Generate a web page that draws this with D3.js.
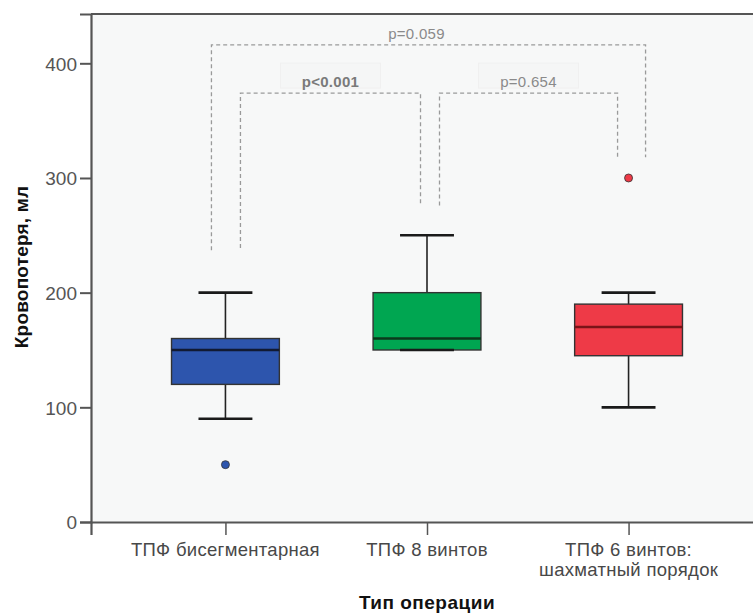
<!DOCTYPE html>
<html>
<head>
<meta charset="utf-8">
<script src="https://cdn.jsdelivr.net/npm/d3@7"></script>
<style>
  html, body { margin: 0; padding: 0; background: #ffffff; }
  svg { display: block; }
  text { font-family: "Liberation Sans", Arial, sans-serif; }
</style>
</head>
<body>
<svg id="chart" width="753" height="613"></svg>
<script>
// Blood loss by operation type (box plot, SPSS style)
const categories = ["ТПФ бисегментарная", "ТПФ 8 винтов", "ТПФ 6 винтов:|шахматный порядок"];
const whiskerLow  = [90, 150, 100];
const q1          = [120, 150, 145];
const median      = [150, 160, 170];
const q3          = [160, 200, 190];
const whiskerHigh = [200, 250, 200];
const outliers    = [[50], [], [300]];
const boxColors   = ["#2d55ad", "#00a651", "#ee3a47"];
const medianColors = ["#111a33", "#0b3a1c", "#7a1418"];
const yTicks = [0, 100, 200, 300, 400];

// Pairwise comparisons: bracket level and leg end points in ml
const compFrom   = [0, 0, 1];
const compTo     = [2, 1, 2];
const compLabel  = ["p=0.059", "p<0.001", "p=0.654"];
const compLevel  = [416, 374, 374];
const compLegA   = [237, 239, 276];
const compLegB   = [318, 278, 318];

const svg = d3.select("#chart");
const plot = { left: 91, top: 14, right: 763, bottom: 522 };

const y = d3.scaleLinear().domain([0, 443]).range([plot.bottom, plot.top]);
const x = d3.scalePoint().domain(categories).range([plot.left, plot.right]).padding(0.667);
const step = x.step();
const boxW = step * 0.535;
const capW = boxW * 0.5;

// plot background and frame
svg.append("rect")
  .attr("x", plot.left).attr("y", plot.top)
  .attr("width", plot.right - plot.left).attr("height", plot.bottom - plot.top)
  .attr("fill", "#f7f8f8");
svg.append("line")
  .attr("x1", plot.left).attr("x2", plot.right)
  .attr("y1", plot.top).attr("y2", plot.top)
  .attr("stroke", "#555").attr("stroke-width", 2.2);

// y axis
const yAxis = d3.axisLeft(y).tickValues(yTicks).tickSize(11).tickPadding(3).tickFormat(d3.format("d"));
const gy = svg.append("g").attr("transform", `translate(${plot.left},0)`).call(yAxis);
gy.select(".domain").attr("stroke", "#555").attr("stroke-width", 2.2);
gy.selectAll(".tick line").attr("stroke", "#555").attr("stroke-width", 2);
gy.selectAll(".tick text").attr("fill", "#555").attr("font-size", 19).attr("dy", "0.36em");

// x axis
const xAxis = d3.axisBottom(x).tickSize(13).tickFormat("");
const gx = svg.append("g").attr("transform", `translate(0,${plot.bottom})`).call(xAxis);
gx.select(".domain").attr("stroke", "#555").attr("stroke-width", 2.2);
gx.selectAll(".tick line").attr("stroke", "#555").attr("stroke-width", 1.5);

// category labels (split on |)
categories.forEach(c => {
  const lines = c.split("|");
  const t = svg.append("text")
    .attr("x", x(c)).attr("y", 556)
    .attr("text-anchor", "middle")
    .attr("fill", "#484848").attr("font-size", 18.5).attr("letter-spacing", 0.3);
  lines.forEach((ln, i) => {
    t.append("tspan").attr("x", x(c)).attr("dy", i === 0 ? 0 : 20).text(ln);
  });
});

// axis titles
svg.append("text")
  .attr("x", 427).attr("y", 609)
  .attr("text-anchor", "middle")
  .attr("font-weight", "bold").attr("font-size", 19).attr("letter-spacing", 0.5).attr("fill", "#111")
  .text("Тип операции");
svg.append("text")
  .attr("transform", "translate(28,267) rotate(-90)")
  .attr("text-anchor", "middle")
  .attr("font-weight", "bold").attr("font-size", 19).attr("letter-spacing", 0.2).attr("fill", "#111")
  .text("Кровопотеря, мл");

// comparison brackets
const legOffsetA = [-14, 15, 12.5];
const legOffsetB = [17, -6.5, -11];
const dash = "4,3";
compLabel.forEach((lab, i) => {
  const xa = x(categories[compFrom[i]]) + legOffsetA[i];
  const xb = x(categories[compTo[i]]) + legOffsetB[i];
  const yl = y(compLevel[i]);
  const g = svg.append("g").attr("fill", "none").attr("stroke", "#9a9a9a").attr("stroke-width", 1.3).attr("stroke-dasharray", dash);
  g.append("path").attr("d", `M${xa},${y(compLegA[i])}V${yl}H${xb}V${y(compLegB[i])}`);
  const cx = (xa + xb) / 2;
  if (i > 0) {
    svg.append("rect")
      .attr("x", cx - 50).attr("y", yl - 30).attr("width", 100).attr("height", 25)
      .attr("fill", "#f5f6f6").attr("stroke", "#f0f0f0").attr("stroke-width", 1);
  }
  svg.append("text")
    .attr("x", i === 0 ? cx - 12 : cx).attr("y", yl - 6)
    .attr("text-anchor", "middle")
    .attr("font-size", 15).attr("letter-spacing", 0.3)
    .attr("fill", i === 1 ? "#7a7a7a" : "#8a8a8a")
    .attr("font-weight", i === 1 ? "bold" : "normal")
    .text(lab);
});

// boxes
categories.forEach((c, i) => {
  const cx = x(c);
  const g = svg.append("g");
  // whisker stems
  g.append("line").attr("x1", cx).attr("x2", cx)
    .attr("y1", y(whiskerHigh[i])).attr("y2", y(q3[i]))
    .attr("stroke", "#222").attr("stroke-width", 1.6);
  g.append("line").attr("x1", cx).attr("x2", cx)
    .attr("y1", y(q1[i])).attr("y2", y(whiskerLow[i]))
    .attr("stroke", "#222").attr("stroke-width", 1.6);
  // box
  g.append("rect")
    .attr("x", cx - boxW / 2).attr("y", y(q3[i]))
    .attr("width", boxW).attr("height", y(q1[i]) - y(q3[i]))
    .attr("fill", boxColors[i]).attr("stroke", "#333").attr("stroke-width", 1.4);
  // caps
  [whiskerHigh[i], whiskerLow[i]].forEach(v => {
    g.append("line").attr("x1", cx - capW / 2).attr("x2", cx + capW / 2)
      .attr("y1", y(v)).attr("y2", y(v))
      .attr("stroke", "#1a1a1a").attr("stroke-width", 2.6);
  });
  // median
  g.append("line").attr("x1", cx - boxW / 2).attr("x2", cx + boxW / 2)
    .attr("y1", y(median[i])).attr("y2", y(median[i]))
    .attr("stroke", medianColors[i]).attr("stroke-width", 2.6);
  // outliers
  outliers[i].forEach(v => {
    g.append("circle").attr("cx", cx).attr("cy", y(v)).attr("r", 4)
      .attr("fill", boxColors[i]).attr("stroke", "#333").attr("stroke-width", 0.8);
  });
});
</script>
</body>
</html>
